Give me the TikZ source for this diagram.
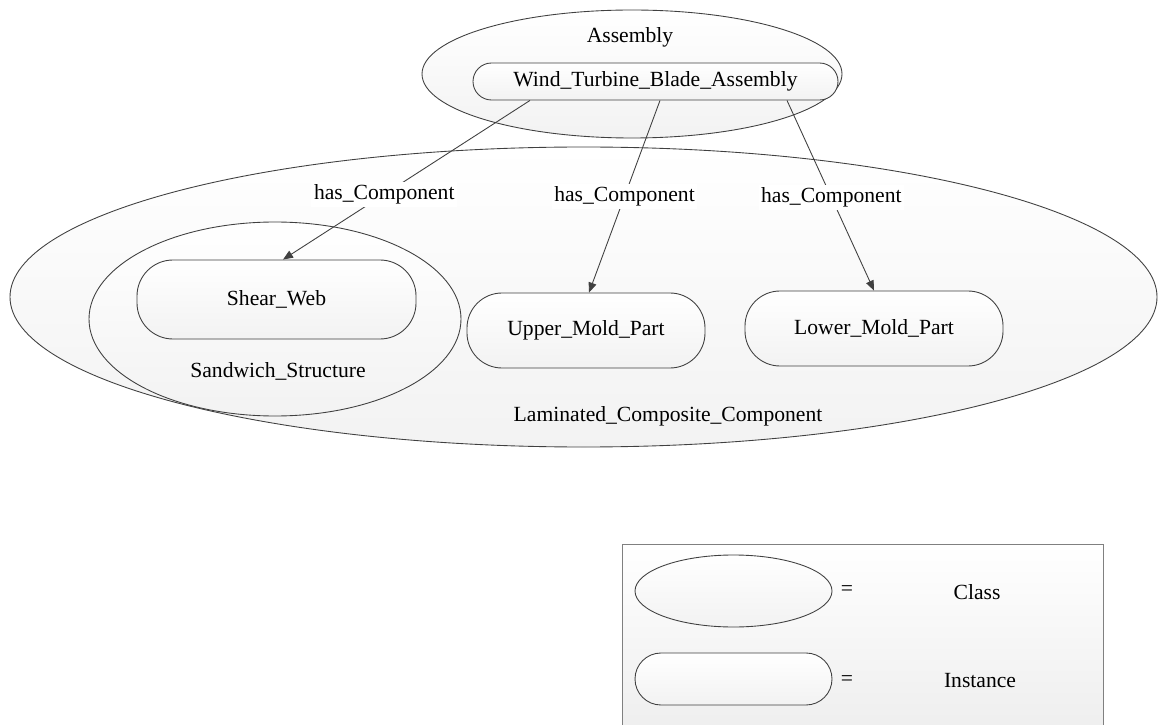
\documentclass[tikz,border=0pt]{standalone}
\usepackage{fontspec}
\setmainfont{Liberation Serif}
\newfontfamily\labfont{Liberation Serif}
\usetikzlibrary{shapes.geometric,arrows.meta}
\tikzset{
    classnode/.style={ellipse, draw=black!75, top color=white, bottom color=black!5, inner sep=0pt},
    instnode/.style={rectangle, rounded corners=#1, draw=black!75, top color=white, bottom color=black!5, inner sep=0pt},
    hasarrow/.style={draw=black!75, -{Triangle[length=0.2cm,width=0.16cm]}},
    lab/.style={fill=white, inner sep=1.5pt},
}
\begin{document}
\begin{tikzpicture}[line width=0.5pt, font=\labfont\fontsize{12.3}{14}\selectfont]
    \useasboundingbox (0, 0) rectangle (23.3, -14.5);

    \node[classnode, minimum width=22.94cm, minimum height=6cm] (lcc) at (11.67, -5.94) {};
    \node (lcclab) at (13.36, -8.32) {Laminated\_Composite\_Component};
    \node[classnode, minimum width=7.44cm, minimum height=3.88cm] (sws) at (5.5, -6.38) {};
    \node (swslab) at (5.56, -7.42) {Sandwich\_Structure};
    \node[instnode=0.72cm, minimum width=5.58cm, minimum height=1.58cm] (shear) at (5.53, -5.99) {Shear\_Web};
    \node[instnode=0.7cm, minimum width=4.76cm, minimum height=1.5cm] (upper) at (11.72, -6.61) {Upper\_Mold\_Part};
    \node[instnode=0.7cm, minimum width=5.16cm, minimum height=1.5cm] (lower) at (17.48, -6.57) {Lower\_Mold\_Part};

    \node[classnode, minimum width=8.4cm, minimum height=2.56cm] (asm) at (12.64, -1.48) {};
    \node (asmlab) at (12.6, -0.74) {Assembly};
    \node[instnode=0.37cm, minimum width=7.3cm, minimum height=0.74cm] (wtba) at (13.11, -1.63) {Wind\_Turbine\_Blade\_Assembly};

    \draw[hasarrow] ([xshift=-2.51cm]wtba.south) -- node[lab, pos=0.59] (has1) {has\_Component} ([xshift=0.13cm]shear.north);
    \draw[hasarrow] ([xshift=0.09cm]wtba.south) -- node[lab, pos=0.5] (has2) {has\_Component} ([xshift=0.06cm]upper.north);
    \draw[hasarrow] ([xshift=2.63cm]wtba.south) -- node[lab, pos=0.51] (has3) {has\_Component} (lower.north);

    \draw[draw=black!50, top color=white, bottom color=black!7] (12.44, -10.88) rectangle (22.06, -14.8);
    \node[classnode, minimum width=3.94cm, minimum height=1.44cm] (keyclass) at (14.67, -11.82) {};
    \node (eq1) at (16.94, -11.82) {=};
    \node (classlab) at (19.54, -11.84) {Class};
    \node[instnode=0.52cm, minimum width=3.94cm, minimum height=1.04cm] (keyinst) at (14.67, -13.58) {};
    \node (eq2) at (16.94, -13.62) {=};
    \node (instlab) at (19.6, -13.62) {Instance};
\end{tikzpicture}
\end{document}
